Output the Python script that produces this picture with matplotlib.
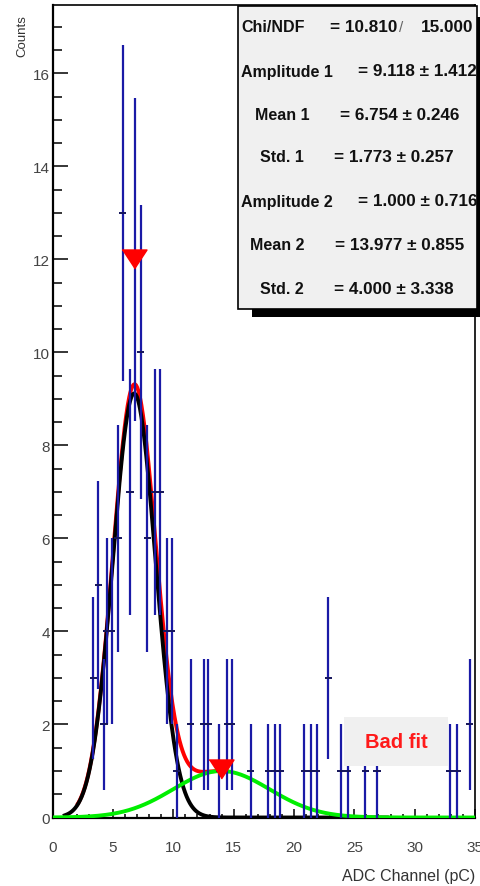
import numpy as np
import matplotlib
matplotlib.use("Agg")
import matplotlib.pyplot as plt
from matplotlib.patches import Rectangle
from matplotlib.ticker import MultipleLocator

plt.rcParams['font.family'] = ['Liberation Sans', 'DejaVu Sans']

# ---- measured spectrum: channel centre (pC) and counts per bin ----
channel = [3.37, 3.78, 4.25, 4.48, 4.89, 5.42, 5.79, 6.41, 6.78, 7.28,
           7.84, 8.48, 8.90, 9.45, 9.87, 10.28, 11.43, 12.50, 12.90, 13.82,
           14.48, 14.84, 16.42, 17.88, 18.43, 18.85, 20.86, 21.42, 21.89, 22.85,
           23.88, 24.46, 25.90, 26.87, 32.89, 33.50, 34.55]
counts = [3, 5, 2, 4, 4, 6, 13, 7, 12, 10,
          6, 7, 7, 4, 4, 1, 2, 2, 2, 1,
          2, 2, 1, 1, 1, 1, 1, 1, 1, 3,
          1, 1, 1, 1, 1, 1, 2]
half_bin = 0.3

# ---- double-gaussian fit result ----
chi2, ndf = 10.810, 15.000
amp1, amp1_err = 9.118, 1.412
mean1, mean1_err = 6.754, 0.246
std1, std1_err = 1.773, 0.257
amp2, amp2_err = 1.000, 0.716
mean2, mean2_err = 13.977, 0.855
std2, std2_err = 4.000, 3.338

# peak-search markers (position, bin height)
peak_x = [mean1, mean2]
peak_y = [12.0, 1.05]


def gauss(x, a, m, s):
    return a * np.exp(-0.5 * ((x - m) / s) ** 2)


W, H = 480, 887
fig = plt.figure(figsize=(W / 100, H / 100), dpi=100)
fig.patch.set_facecolor('white')

left_px, right_px, top_px, bottom_px = 52.7, 475.0, 6.0, 818.5
ax = fig.add_axes([left_px / W, 1 - bottom_px / H,
                   (right_px - left_px) / W, (bottom_px - top_px) / H])
ax.set_xlim(0, 35)
ax.set_ylim(0, 17.47)

# fit curves
xr = np.linspace(2.0, 14.6, 300)
ax.plot(xr, gauss(xr, amp1, mean1, std1) + gauss(xr, amp2, mean2, std2),
        color='#ff0000', lw=2.8, zorder=3, solid_capstyle='butt')
xb = np.linspace(1.0, 27.7, 400)
ax.plot(xb, gauss(xb, amp1, mean1, std1), color='black', lw=2.8, zorder=4)
xg = np.linspace(0.0, 35.0, 400)
ax.plot(xg, gauss(xg, amp2, mean2, std2), color='#00ee00', lw=2.8, zorder=5)

# data with Poisson errors
ch = np.array(channel)
ct = np.array(counts, dtype=float)
err = np.sqrt(ct)
ax.vlines(ch, ct - err, ct + err, colors='#1a1aa6', lw=1.6, zorder=6)
ax.hlines(ct, ch - half_bin, ch + half_bin, colors='#14145a', lw=1.4, zorder=6)

# peak markers
tri = [(-1, 0.76), (1, 0.76), (0, -0.76)]
ax.plot(peak_x, peak_y, linestyle='none', marker=tri, markersize=18,
        color='#ff0000', zorder=8)

# "Bad fit" label
ax.add_patch(Rectangle((24.15, 1.10), 8.63, 1.07, facecolor='#f0f0f0',
                       edgecolor='none', zorder=9))
ax.text(28.47, 1.63, 'Bad fit', color='#ff1a1a', fontsize=14.5,
        fontweight='bold', ha='center', va='center', zorder=10)

# axes styling
for side in ['left', 'bottom']:
    ax.spines[side].set_linewidth(1.6)
for side in ['top', 'right']:
    ax.spines[side].set_linewidth(1.2)
ax.xaxis.set_major_locator(MultipleLocator(5))
ax.xaxis.set_minor_locator(MultipleLocator(1))
ax.yaxis.set_major_locator(MultipleLocator(2))
ax.yaxis.set_minor_locator(MultipleLocator(0.5))
ax.tick_params(axis='x', which='major', direction='in', length=6.5, width=1.1,
               pad=16, labelsize=11, labelcolor='#444444')
ax.tick_params(axis='x', which='minor', direction='in', length=3.2, width=1.1)
ax.tick_params(axis='y', which='major', direction='in', length=10.8, width=1.1,
               pad=2, labelsize=11, labelcolor='#444444')
ax.tick_params(axis='y', which='minor', direction='in', length=6.5, width=1.1)
ax.tick_params(top=False, right=False, which='both')
ax.set_xticks(np.arange(0, 36, 5))
ax.set_xticklabels([str(v) for v in range(0, 36, 5)])

fig.text(22 / W, 1 - 15 / H, 'Counts', rotation=90, ha='center', va='top',
         fontsize=9.5, color='#333333')
fig.text(475 / W, 1 - 877 / H, 'ADC Channel (pC)', ha='right', va='center',
         fontsize=11.5, color='#333333')

# fit statistics box with drop shadow
bx0, by0, bx1, by1 = 238, 7, 477, 310
fig.patches.append(Rectangle((252 / W, 1 - 318 / H), (bx1 + 14 - 252) / W,
                             (318 - 18) / H, transform=fig.transFigure,
                             facecolor='black', edgecolor='none', zorder=20))
fig.patches.append(Rectangle((bx0 / W, 1 - by1 / H), (bx1 - bx0) / W,
                             (by1 - by0) / H, transform=fig.transFigure,
                             facecolor='#f0f0f0', edgecolor='black', lw=1.2,
                             zorder=21))


def box_text(px, py, s, weight='bold', size=11.5, color='#111111'):
    fig.text(px / W, 1 - py / H, s, ha='left', va='center', fontsize=size,
             fontweight=weight, color=color, zorder=22)


# Chi/NDF row: value, thin fraction slash, ndf
box_text(241.5, 28, 'Chi/NDF')
box_text(330, 28, f'= {chi2:.3f}', size=12.3)
box_text(399, 28, '/', weight='normal', size=11, color='#666666')
box_text(421, 28, f'{ndf:.3f}', size=12.3)

rows = [
    ('Amplitude 1', 241, amp1, amp1_err, 358, 72),
    ('Mean 1', 255, mean1, mean1_err, 340, 115),
    ('Std. 1', 260, std1, std1_err, 334, 158),
    ('Amplitude 2', 241, amp2, amp2_err, 358, 202),
    ('Mean 2', 250, mean2, mean2_err, 335, 245),
    ('Std. 2', 260, std2, std2_err, 334, 290),
]
for label, lx, val, val_err, vx, ry in rows:
    box_text(lx, ry, label)
    box_text(vx, ry, f'= {val:.3f} \u00b1 {val_err:.3f}', size=12.3)

fig.savefig('out.png', dpi=100)
